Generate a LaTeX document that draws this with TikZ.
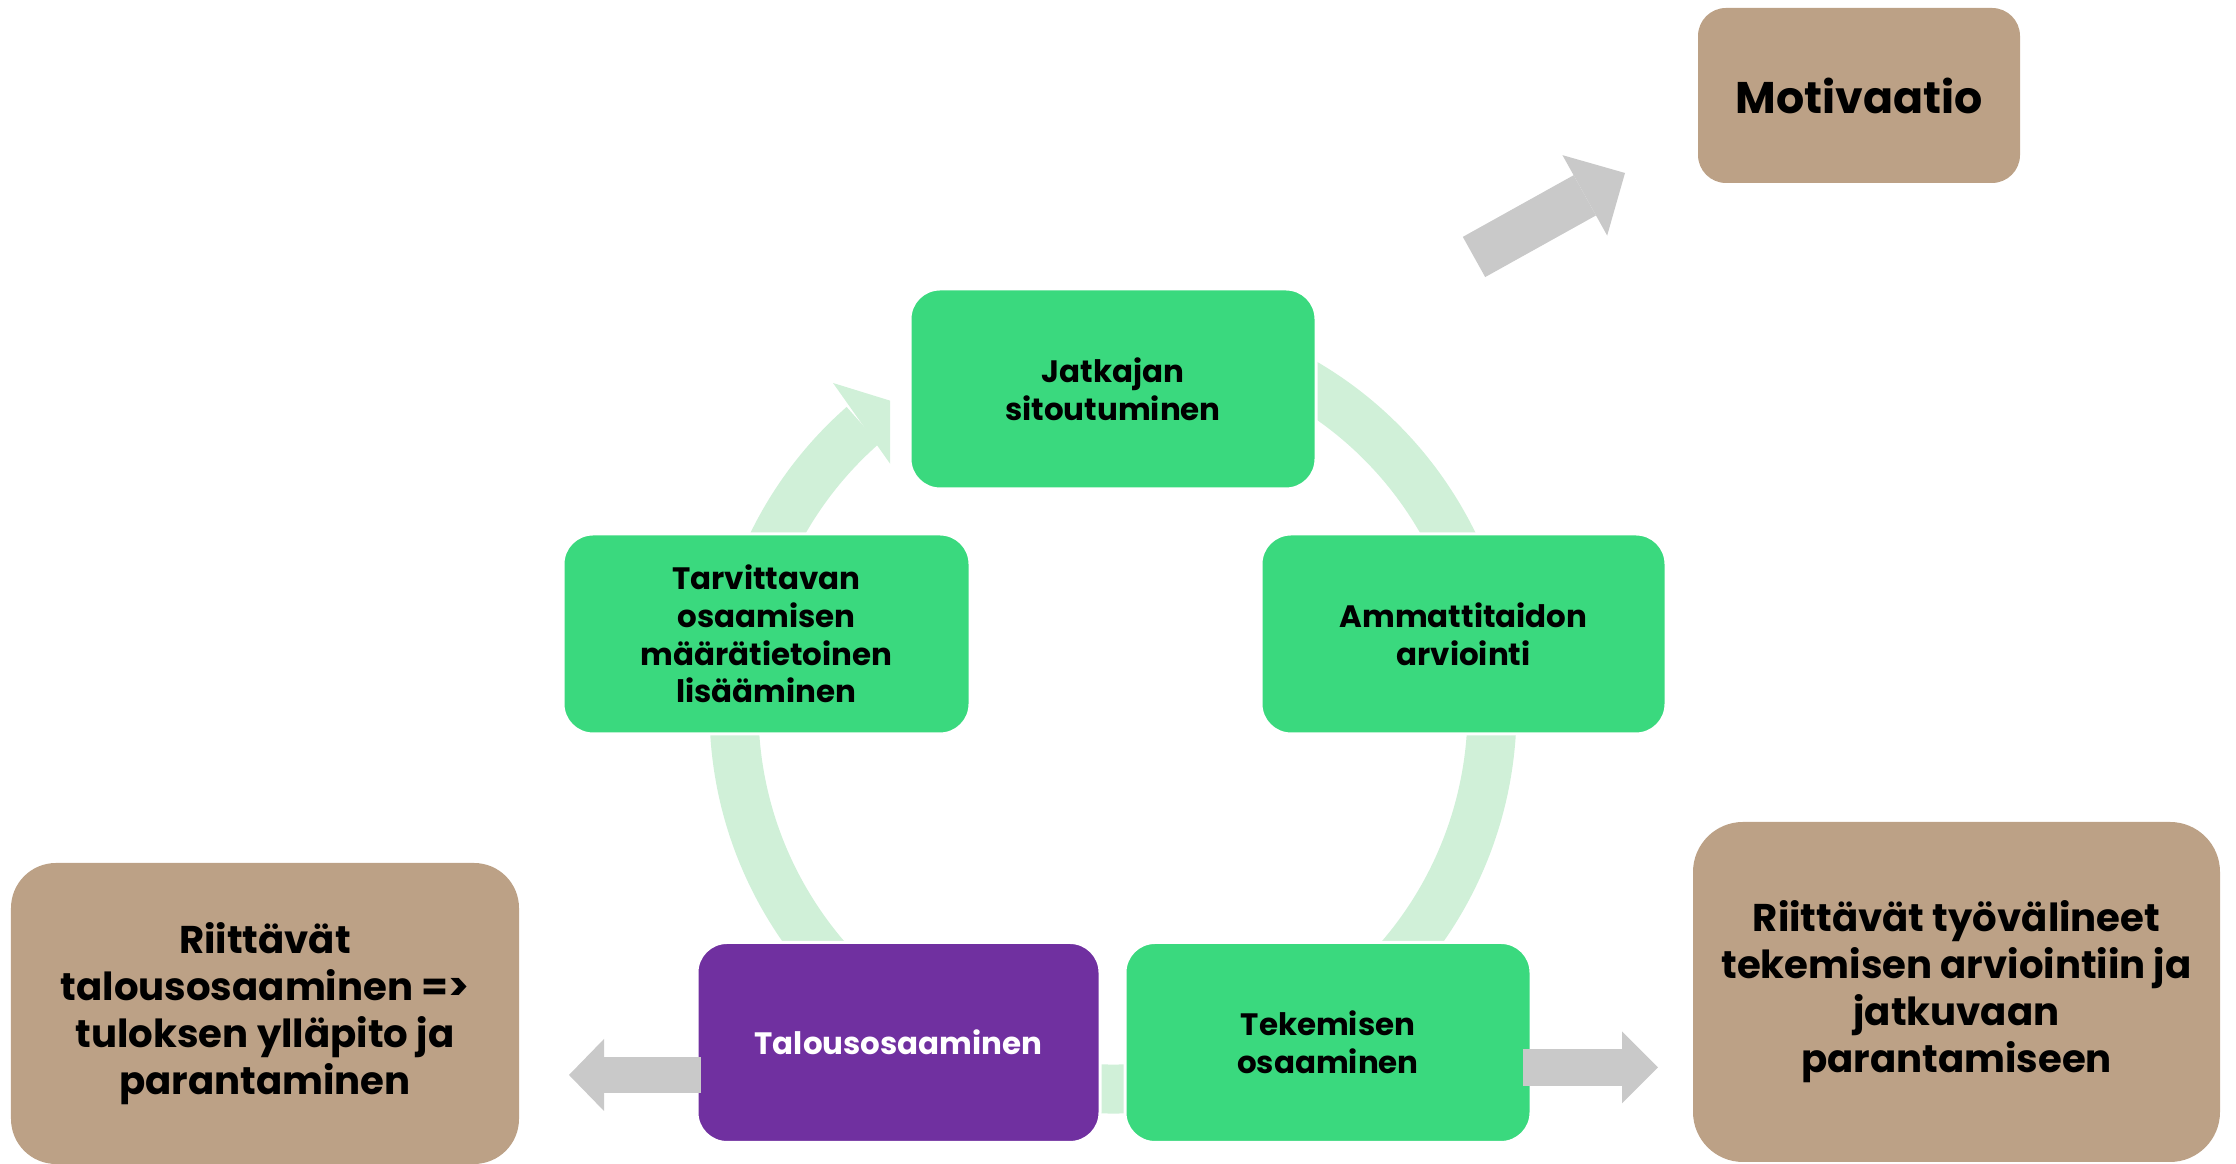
\documentclass[tikz,border=0pt]{standalone}
\usepackage{fontspec}
\setsansfont{Poppins}
\usepackage{tikz}
\usetikzlibrary{arrows.meta}

\definecolor{stepgreen}{RGB}{58,217,126}
\definecolor{moneypurple}{RGB}{112,48,160}
\definecolor{notetan}{RGB}{188,161,134}
\definecolor{ringgreen}{RGB}{208,240,216}
\definecolor{arrowgray}{RGB}{201,201,201}

\begin{document}
\begin{tikzpicture}[
	stepbox/.style={rectangle, rounded corners=0.3cm, fill=stepgreen, draw=white, line width=0.03cm,
		minimum width=4.06cm, minimum height=2cm, align=center, inner sep=1pt,
		font=\sffamily\bfseries\fontsize{8.8}{10.7}\selectfont},
	notebox/.style={rectangle, rounded corners=0.5cm, fill=notetan, align=center, inner sep=1pt,
		font=\sffamily\bfseries\fontsize{11}{13.4}\selectfont},
	ring/.style={ringgreen, line width=0.49cm},
	fatarrow/.style={arrowgray, line width=#1}
]
	\useasboundingbox (0, 0) rectangle (22.36, 11.64);

	\draw[ring] (11.13, 4.54) ++(120:3.79) arc[start angle=120, end angle=-228.7, radius=3.79];
	\begin{scope}
		\clip (0, 0) rectangle (8.90, 11.64);
		\fill[ringgreen] (8.33, 7.81) -- (9.30, 7.51) -- (8.91, 6.99) -- cycle;
	\end{scope}

	\node[stepbox] (jat) at (11.13, 7.75) {Jatkajan\\sitoutuminen};
	\node[stepbox, minimum width=4.05cm] (amm) at (14.635, 5.30) {Ammattitaidon\\arviointi};
	\node[stepbox, minimum width=4.07cm] (tar) at (7.665, 5.30) {Tarvittavan\\osaamisen\\määrätietoinen\\lisääminen};
	\node[stepbox, minimum width=4.03cm, fill=moneypurple, text=white] (tal) at (8.985, 1.215) {Talousosaaminen};
	\node[stepbox] (tek) at (13.28, 1.215) {Tekemisen\\osaaminen};

	\node[notebox, rounded corners=0.28cm, minimum width=3.22cm, minimum height=1.75cm,
		font=\sffamily\bfseries\fontsize{12.6}{14}\selectfont] (mot) at (18.59, 10.685) {Motivaatio};
	\node[notebox, minimum width=5.27cm, minimum height=3.40cm] (tools) at (19.565, 1.72)
		{Riittävät työvälineet\\tekemisen arviointiin ja\\jatkuvaan\\parantamiseen};
	\node[notebox, rounded corners=0.45cm, minimum width=5.08cm, minimum height=3.01cm] (result) at (2.65, 1.505)
		{Riittävät\\talousosaaminen =>\\tuloksen ylläpito ja\\parantaminen};

	\coordinate (motfrom) at (14.74, 9.07);
	\coordinate (motto) at (16.25, 9.91);
	\coordinate (talfrom) at (7.01, 0.89);
	\coordinate (talto) at (5.69, 0.89);
	\coordinate (tekfrom) at (15.23, 0.965);
	\coordinate (tekto) at (16.58, 0.965);

	\draw[fatarrow=0.46cm, -{Triangle[length=0.46cm, width=0.92cm, line width=0pt]}] (motfrom) -- (motto);
	\draw[fatarrow=0.36cm, -{Triangle[length=0.35cm, width=0.72cm, line width=0pt]}] (talfrom) -- (talto);
	\draw[fatarrow=0.37cm, -{Triangle[length=0.36cm, width=0.72cm, line width=0pt]}] (tekfrom) -- (tekto);
\end{tikzpicture}
\end{document}
